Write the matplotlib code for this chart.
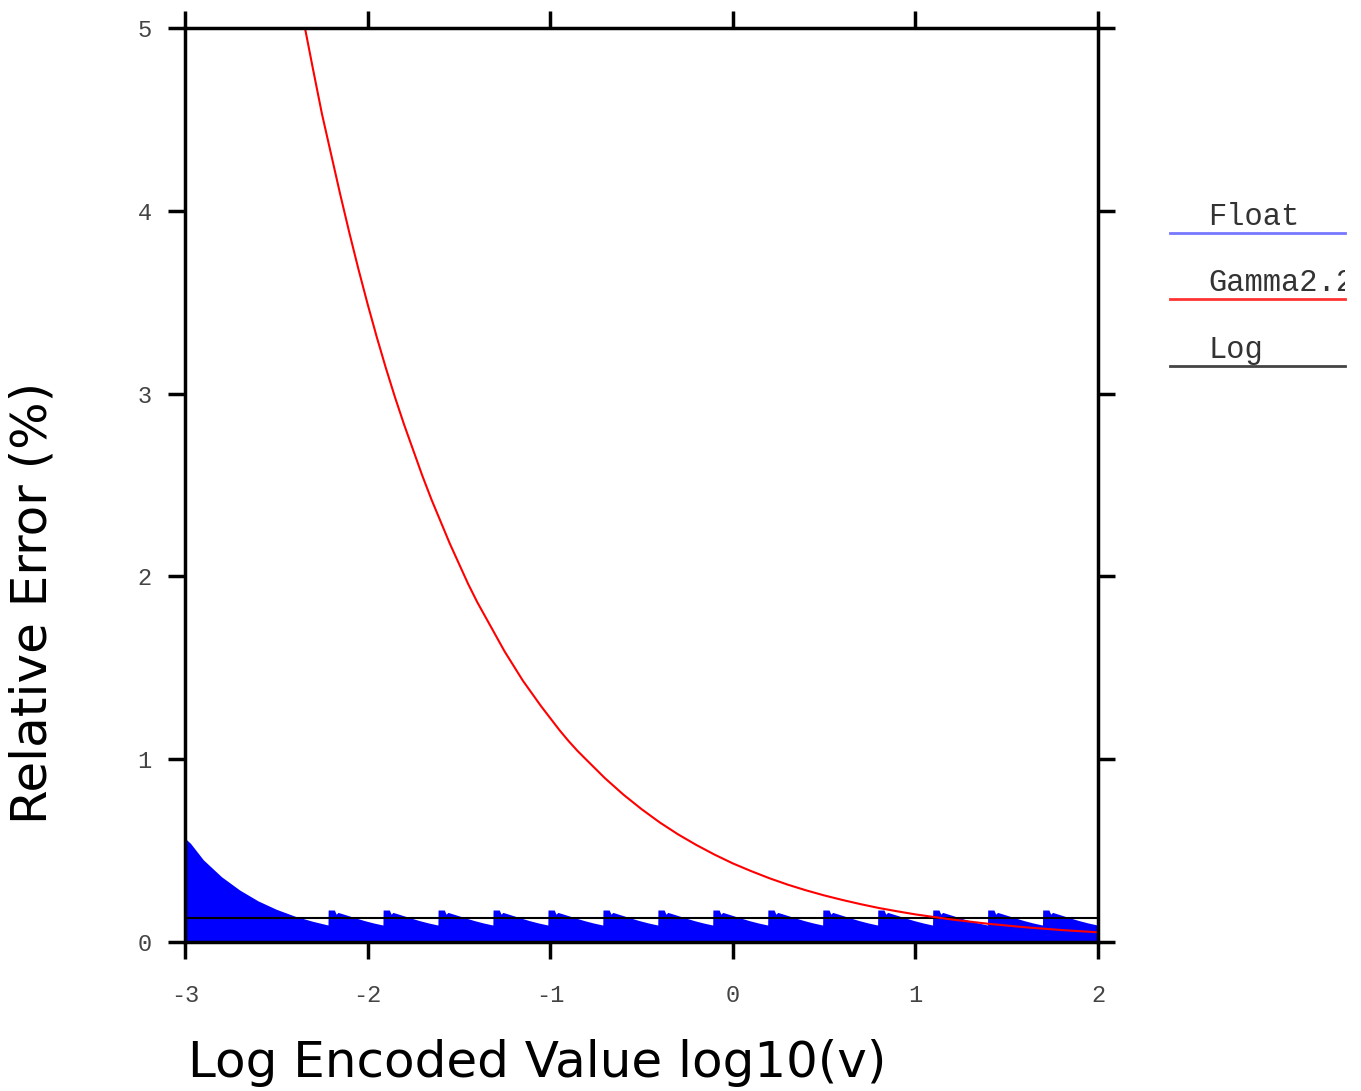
import numpy as np
import matplotlib.pyplot as plt
from matplotlib.transforms import Bbox, TransformedBbox

plt.rcParams['axes.unicode_minus'] = False

# gamma 2.2 relative error (%)
gamma_x = [-2.343, -2.3, -2.25, -2.2, -2.15, -2.1, -2.05, -2.0, -1.95, -1.9, -1.85, -1.8,
           -1.75, -1.7, -1.65, -1.6, -1.55, -1.5, -1.45, -1.4, -1.35, -1.3, -1.25, -1.2,
           -1.15, -1.1, -1.05, -1.0, -0.95, -0.9, -0.85, -0.8, -0.7, -0.6, -0.5, -0.4,
           -0.3, -0.2, -0.1, 0.0, 0.1, 0.2, 0.3, 0.4, 0.5, 0.6, 0.7, 0.8, 0.9, 1.0,
           1.2, 1.4, 1.6, 1.8, 2.0]
gamma_y = [5.0, 4.78, 4.53, 4.31, 4.09, 3.88, 3.68, 3.49, 3.31, 3.14, 2.98, 2.83,
           2.69, 2.55, 2.42, 2.30, 2.18, 2.07, 1.96, 1.86, 1.77, 1.68, 1.59, 1.51,
           1.43, 1.36, 1.29, 1.225, 1.16, 1.10, 1.045, 0.995, 0.896, 0.807, 0.727, 0.654,
           0.589, 0.531, 0.478, 0.43, 0.388, 0.349, 0.314, 0.283, 0.255, 0.230, 0.207,
           0.186, 0.168, 0.151, 0.123, 0.0995, 0.0807, 0.0654, 0.053]

# log encoding: constant relative error (%)
log_err = 0.133

# float: denormal range envelope
denorm_x = [-3.0, -2.97, -2.9, -2.8, -2.7, -2.6, -2.5, -2.4, -2.3, -2.217]
denorm_y = [0.567, 0.54, 0.45, 0.357, 0.284, 0.225, 0.179, 0.142, 0.113, 0.093]

# float: sawtooth teeth (one per octave), start positions and profile of one tooth
tooth_start = [-2.217, -1.916, -1.615, -1.314, -1.013, -0.712, -0.411, -0.110,
               0.191, 0.492, 0.793, 1.094, 1.395, 1.696]
tooth_dx = [0.0, 0.001, 0.035, 0.045, 0.055, 0.1, 0.15, 0.2, 0.25, 0.3]
tooth_dy = [0.093, 0.175, 0.175, 0.152, 0.162, 0.148, 0.132, 0.117, 0.104, 0.093]

# build float envelope
fx = list(denorm_x)
fy = list(denorm_y)
for s in tooth_start:
    for dx, dy in zip(tooth_dx, tooth_dy):
        if s + dx <= 2.0:
            fx.append(s + dx)
            fy.append(dy)
fx = np.array(fx)
fy = np.array(fy)

W, H = 1361, 1091
fig = plt.figure(figsize=(W / 100, H / 100), dpi=100)
ax = fig.add_axes([185 / W, 1 - 942 / H, (1098 - 185) / W, (942 - 28) / H])

ax.fill_between(fx, 0, fy, color='#0000ff', lw=0, zorder=2)
ax.axhline(log_err, color='black', lw=1.5, zorder=3)
ax.plot(gamma_x, gamma_y, color='#ff0000', lw=1.5, zorder=4)

ax.set_xlim(-3, 2)
ax.set_ylim(0, 5)
ax.set_xticks([-3, -2, -1, 0, 1, 2])
ax.set_yticks([0, 1, 2, 3, 4, 5])

for sp in ax.spines.values():
    sp.set_linewidth(2.5)
    sp.set_zorder(5)
ax.tick_params(direction='out', length=12, width=2.5, top=True, right=True,
               labelsize=17, labelcolor='#444444')
ax.tick_params(axis='x', pad=18)
ax.tick_params(axis='y', pad=12)
for lab in ax.get_xticklabels() + ax.get_yticklabels():
    lab.set_family('Liberation Mono')

fig.text(188 / W, 1 - 1077 / H, 'Log Encoded Value log10(v)', fontsize=36,
         family='DejaVu Sans', ha='left', va='baseline')
fig.text(33 / W, 1 - 603 / H, 'Relative Error (%)', fontsize=36,
         family='DejaVu Sans', rotation=90, ha='center', va='center')

# legend outside on the right, clipped at x=1345 like the original
clip = TransformedBbox(Bbox([[0, 0], [1345 / W, 1]]), fig.transFigure)
leg = [('Float', '#7777ff', 233), ('Gamma2.2', '#ff3333', 299), ('Log', '#444444', 366)]
for name, col, yy in leg:
    fig.add_artist(plt.Line2D([1170 / W, 1345 / W], [1 - yy / H, 1 - yy / H],
                              color=col, lw=2, transform=fig.transFigure))
    t = fig.text(1208 / W, 1 - (yy - 8) / H, name, fontsize=22, family='Liberation Mono',
                 color='#333333', ha='left', va='baseline')
    t.set_clip_box(clip)
    t.set_clip_on(True)

fig.savefig('out.png', dpi=100)
